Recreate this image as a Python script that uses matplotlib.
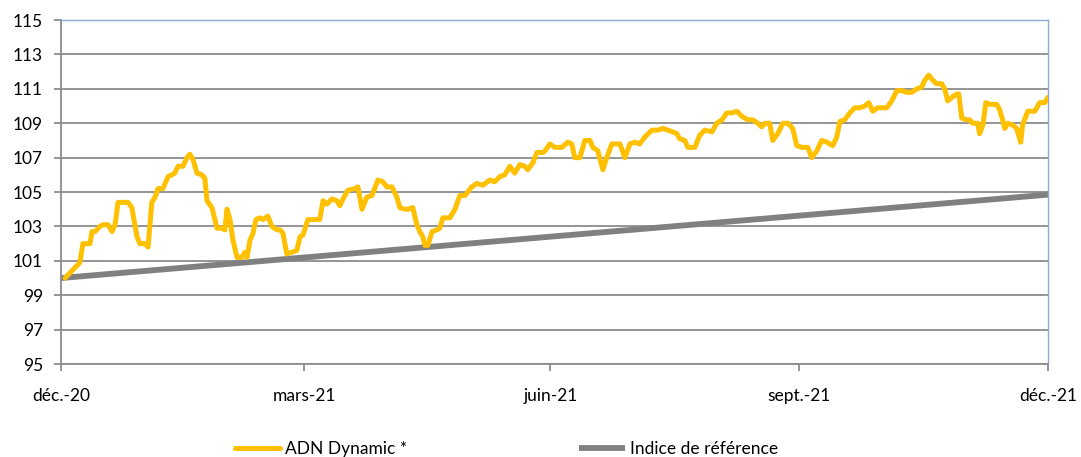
import matplotlib
matplotlib.use('Agg')
import matplotlib.pyplot as plt

# days since 1 Dec 2020
fund_days = [1.5, 5.2, 7.0, 8.1, 10.7, 11.5, 12.6, 14.4, 15.5, 17.4, 18.9, 20.0, 21.1, 22.6, 24.8,
             26.2, 28.1, 29.2, 31.1, 32.2, 33.6, 34.8, 35.9, 37.7, 39.6, 41.0, 42.1, 43.3, 45.1,
             46.6, 47.7, 48.8, 50.3, 52.1, 53.2, 54.0, 55.8, 56.9, 57.7, 59.5, 60.6, 61.4, 62.5,
             63.6, 65.1, 66.9, 68.0, 68.8, 69.9, 71.0, 72.1, 73.6, 74.7, 76.5, 78.0, 79.9, 81.0,
             82.1, 83.5, 85.4, 87.2, 88.4, 89.5, 91.3, 93.2, 95.7, 96.9, 98.3, 100.2, 102.0, 103.1,
             104.3, 106.1, 108.7, 109.8, 111.3, 113.1, 115.0, 117.2, 119.0, 120.5, 122.4, 124.2,
             125.3, 127.2, 128.3, 130.1, 131.6, 132.7, 133.8, 134.6, 135.7, 137.2, 139.0, 140.1,
             141.2, 143.8, 145.7, 147.5, 149.4, 151.9, 153.8, 156.0, 158.6, 160.4, 162.3, 164.1,
             166.0, 167.8, 169.7, 171.5, 172.6, 174.5, 176.0, 178.2, 179.0, 180.8, 182.6, 185.2,
             187.4, 188.9, 190.0, 191.9, 193.7, 195.6, 196.7, 198.5, 200.4, 201.8, 203.7, 206.7,
             208.5, 210.4, 212.2, 214.0, 215.9, 218.5, 220.7, 222.6, 224.4, 226.2, 227.7, 228.8,
             230.7, 231.8, 234.4, 236.2, 238.1, 240.7, 242.5, 244.4, 246.2, 248.1, 249.9, 251.8,
             254.0, 255.8, 257.7, 259.1, 260.3, 262.1, 263.2, 265.1, 266.9, 268.8, 270.6, 272.1,
             273.9, 276.2, 277.6, 279.5, 281.3, 283.2, 285.4, 286.9, 288.0, 289.8, 291.7, 293.5,
             295.4, 297.2, 298.7, 300.2, 302.0, 305.4, 307.2, 309.1, 310.9, 312.8, 314.6, 316.5,
             318.3, 319.4, 320.9, 322.4, 323.8, 325.7, 326.8, 327.9, 329.4, 331.2, 332.0, 333.1,
             334.9, 336.0, 337.2, 339.0, 339.7, 340.9, 342.0, 343.4, 346.0, 347.1, 348.2, 349.0,
             350.1, 351.9, 353.4, 354.9, 355.6, 357.5, 360.1, 361.9, 363.8, 364.9]
fund_vals = [100.0, 100.6, 100.9, 102.0, 102.0, 102.7, 102.7, 103.0, 103.1, 103.1, 102.7, 103.1, 104.4, 104.4, 104.4,
             104.1, 102.4, 102.0, 102.0, 101.8, 104.4, 104.7, 105.2, 105.2, 105.9, 106.0, 106.1, 106.5, 106.5,
             107.0, 107.2, 106.9, 106.1, 106.0, 105.8, 104.5, 104.1, 103.4, 102.9, 102.9, 102.8, 104.0, 103.4,
             102.2, 101.2, 101.2, 101.5, 101.2, 102.2, 102.6, 103.4, 103.5, 103.4, 103.6, 103.0, 102.8, 102.8,
             102.6, 101.4, 101.5, 101.6, 102.4, 102.5, 103.4, 103.4, 103.4, 104.5, 104.3, 104.6, 104.5, 104.2,
             104.6, 105.1, 105.2, 105.3, 104.0, 104.7, 104.8, 105.7, 105.6, 105.3, 105.3, 104.7,
             104.1, 104.0, 104.0, 104.1, 103.1, 102.7, 102.4, 101.9, 101.9, 102.7, 102.8, 102.9,
             103.5, 103.5, 104.0, 104.8, 104.8, 105.3, 105.5, 105.4, 105.7, 105.6, 105.9, 106.0,
             106.5, 106.1, 106.6, 106.5, 106.3, 106.7, 107.3, 107.3, 107.4, 107.8, 107.6, 107.6,
             107.9, 107.8, 107.0, 107.0, 108.0, 108.0, 107.6, 107.4, 106.3, 107.0, 107.8, 107.8,
             107.0, 107.8, 107.9, 107.8, 108.2, 108.6, 108.6, 108.7, 108.6, 108.5, 108.4, 108.1,
             108.0, 107.6, 107.6, 108.3, 108.6, 108.5, 109.0, 109.2, 109.6, 109.6, 109.7, 109.4,
             109.2, 109.2, 109.0, 108.8, 109.0, 109.0, 108.0, 108.4, 109.0, 109.0, 108.7, 107.7,
             107.6, 107.6, 107.0, 107.4, 108.0, 107.9, 107.7, 108.2, 109.1, 109.2, 109.6, 109.9,
             109.9, 110.0, 110.2, 109.7, 109.9, 109.9, 110.3, 110.9, 110.9, 110.8, 110.8, 111.0,
             111.1, 111.5, 111.8, 111.5, 111.3, 111.3, 111.0, 110.3, 110.5, 110.7, 110.7, 109.3,
             109.2, 109.2, 109.0, 109.0, 108.4, 108.9, 110.2, 110.1, 110.1, 109.8, 109.2, 108.7,
             109.0, 108.9, 108.7, 107.9, 108.9, 109.7, 109.7, 110.2, 110.2, 110.5]

bench_days = [0, 365]
bench_vals = [100.0, 104.85]

tick_days = [0, 90, 181, 273, 365]
tick_labels = ['déc.-20', 'mars-21', 'juin-21', 'sept.-21', 'déc.-21']
y_ticks = list(range(95, 116, 2))

plt.rcParams['font.family'] = ['Lato', 'DejaVu Sans']

fig = plt.figure(figsize=(10.81, 4.57), dpi=100)
ax = fig.add_axes([0.0564, 0.2035, 0.9131, 0.7525])

ax.plot(fund_days, fund_vals, color='#FFC000', lw=3.6, solid_joinstyle='round',
        solid_capstyle='round', label='ADN Dynamic *', zorder=3)
ax.plot(bench_days, bench_vals, color='#808080', lw=4.2, solid_capstyle='butt',
        label='Indice de référence', zorder=2)

ax.set_xlim(0, 365)
ax.set_ylim(95, 115)
ax.set_yticks(y_ticks)
ax.set_xticks(tick_days)
ax.set_xticklabels(tick_labels)
ax.yaxis.grid(True, color='#8c8c8c', lw=1.3)
ax.set_axisbelow(True)

for s in ['left', 'bottom']:
    ax.spines[s].set_color('#8c8c8c')
    ax.spines[s].set_linewidth(1.3)
for s in ['top', 'right']:
    ax.spines[s].set_color('#8eaadb')
    ax.spines[s].set_linewidth(1.0)

ax.tick_params(axis='both', colors='#8c8c8c', labelcolor='black', labelsize=12.5,
               length=5, width=1.3)
ax.tick_params(axis='y', pad=8)
ax.tick_params(axis='x', pad=12)

fig.legend(loc='lower left', bbox_to_anchor=(0.203, -0.035), ncol=2, frameon=False,
           fontsize=12.5, handlelength=2.6, handletextpad=0.3, columnspacing=9.9)

fig.savefig('out.png', dpi=100)
